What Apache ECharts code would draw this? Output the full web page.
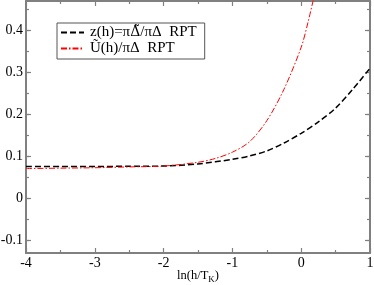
<!DOCTYPE html>
<html><head><meta charset="utf-8">
<script src="https://cdn.jsdelivr.net/npm/echarts@6/dist/echarts.min.js"></script>
<style>html,body{margin:0;padding:0;background:#fff}#c{width:374px;height:285px}</style>
</head><body><div id="c"></div>
<script>
var zX = [-4, -3.5, -3, -2.5, -2, -1.5, -1, -0.75, -0.5, -0.25, 0, 0.25, 0.5, 0.75, 1];
var zY = [0.076, 0.076, 0.076, 0.0765, 0.077, 0.082, 0.093, 0.101, 0.113, 0.132, 0.155, 0.182, 0.215, 0.26, 0.31];
var uX = [-4, -3.5, -3, -2.5, -2, -1.5, -1.25, -1, -0.75, -0.5, -0.25, 0, 0.1, 0.2];
var uY = [0.071, 0.072, 0.073, 0.075, 0.077, 0.086, 0.095, 0.11, 0.135, 0.185, 0.26, 0.36, 0.42, 0.49];
var names = ['z(h)=\u03c0\u0394\u0303/\u03c0\u0394  RPT', '\u0168(h)/\u03c0\u0394  RPT'];
var yMajor = [-0.1, 0, 0.1, 0.2, 0.3, 0.4];
var yMinor = [-0.1, -0.05, 0, 0.05, 0.1, 0.15, 0.2, 0.25, 0.3, 0.35, 0.4, 0.45];

function pairs(xs, ys) { return xs.map(function (x, i) { return [x, ys[i]]; }); }
var FONT = 'Liberation Serif, Times New Roman, serif';
var AX = '#808080';

function xAx(pos, showLabel) {
  return {
    type: 'value', position: pos, min: -4, max: 1, interval: 1,
    axisLine: { show: true, onZero: false, lineStyle: { color: AX, width: 2 } },
    axisTick: { show: true, inside: true, length: 5, lineStyle: { color: AX, width: 1.2 } },
    minorTick: { show: true, splitNumber: 2, length: 3, lineStyle: { color: AX, width: 1.2 } },
    splitLine: { show: false },
    axisLabel: { show: showLabel, color: '#000', fontFamily: FONT, fontSize: 14, margin: 3,
      formatter: function (v) { return String(v); } },
    name: showLabel ? '{a|ln(h/T}{b|K}{a|)}' : '',
    nameLocation: 'middle', nameGap: 15, nameMoveOverlap: false,
    nameTextStyle: { verticalAlign: 'top', lineHeight: 16,
      rich: { a: { fontFamily: FONT, fontSize: 12.5, color: '#000', lineHeight: 16 },
              b: { fontFamily: FONT, fontSize: 9, color: '#000', lineHeight: 10, verticalAlign: 'bottom' } } }
  };
}
function yAx(pos, vals, len, showLabel, showLine) {
  return {
    type: 'value', position: pos, min: -0.13, max: 0.47,
    axisLine: { show: showLine, onZero: false, lineStyle: { color: AX, width: 2 } },
    axisTick: { show: true, inside: true, length: len, customValues: vals, lineStyle: { color: AX, width: 1.2 } },
    splitLine: { show: false },
    axisLabel: { show: showLabel, customValues: vals, color: '#000', fontFamily: FONT, fontSize: 14, margin: 3,
      formatter: function (v) { return String(Math.round(v * 10) / 10); } }
  };
}

var chart = echarts.init(document.getElementById('c'), null, { renderer: 'canvas' });
chart.setOption({
  animation: false,
  grid: { left: 26, right: 4, top: 1, bottom: 32, containLabel: false, outerBoundsMode: 'none' },
  xAxis: [xAx('bottom', true), xAx('top', false)],
  yAxis: [yAx('left', yMajor, 5, true, true), yAx('left', yMinor, 3, false, false),
          yAx('right', yMajor, 5, false, true), yAx('right', yMinor, 3, false, false)],
  legend: {
    left: 57, top: 23, orient: 'vertical', itemGap: 1, itemWidth: 23, itemHeight: 15,
    padding: [2, 8, 3, 3], borderColor: '#555', borderWidth: 1,
    itemStyle: { opacity: 0 },
    textStyle: { fontFamily: FONT, fontSize: 15, color: '#000', padding: [0, 0, 0, 1],
      rich: { d: { fontFamily: 'DejaVu Serif', fontSize: 14, color: '#000' },
              t: { fontFamily: FONT, fontSize: 15, color: '#000' } } },
    formatter: function (n) {
      if (n === names[0]) return '{t|z(h)=\u03c0}{d|\u0394\u0303}{t|/\u03c0\u0394  RPT}';
      return '{t|' + n + '}';
    },
    data: names
  },
  series: [
    { name: names[0], type: 'line', data: pairs(zX, zY), symbol: 'none', smooth: 0.3,
      lineStyle: { color: '#000', width: 1.5, type: [6, 3] }, itemStyle: { color: '#000' } },
    { name: names[1], type: 'line', data: pairs(uX, uY), symbol: 'none', smooth: 0.3,
      lineStyle: { color: '#ff0000', width: 1, type: [6, 2, 1.5, 2] }, itemStyle: { color: '#ff0000' } }
  ]
});
</script></body></html>
